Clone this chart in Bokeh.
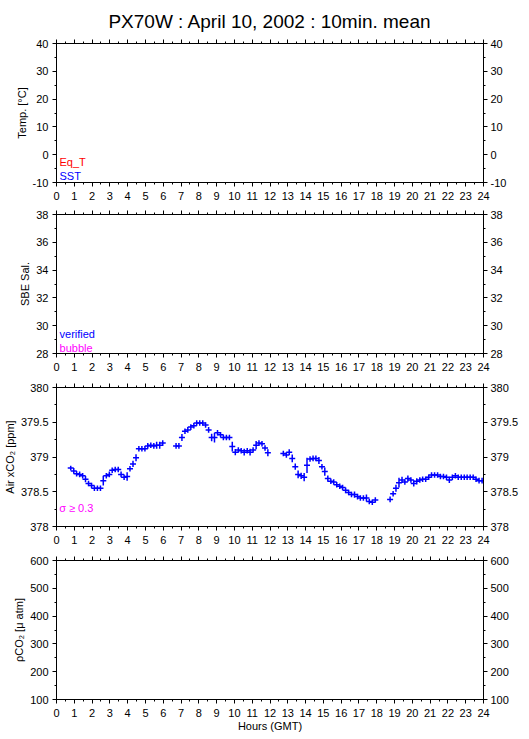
from bokeh.plotting import figure
from bokeh.models import Range1d, LinearAxis, FixedTicker, NumeralTickFormatter, Label
from bokeh.layouts import column
from bokeh.embed import file_html
from bokeh.resources import INLINE

FONT = "Liberation Sans"

# ---------------- data ----------------
title_text = "PX70W : April 10, 2002 : 10min. mean"
hour_ticks = list(range(25))
hour_minor = [0.5 * i for i in range(49)]

temp_ticks = [-10, 0, 10, 20, 30, 40]
temp_minor = [-10, -5, 0, 5, 10, 15, 20, 25, 30, 35, 40]
sal_ticks = [28, 30, 32, 34, 36, 38]
sal_minor = [28, 29, 30, 31, 32, 33, 34, 35, 36, 37, 38]
xco2_ticks = [378, 378.5, 379, 379.5, 380]
xco2_minor = [378, 378.25, 378.5, 378.75, 379, 379.25, 379.5, 379.75, 380]
pco2_ticks = [100, 200, 300, 400, 500, 600]
pco2_minor = [100, 150, 200, 250, 300, 350, 400, 450, 500, 550, 600]

# Air xCO2 10-minute means (hours GMT), value (ppm), std (ppm)
time_h = [
    0.80, 0.97, 1.13, 1.30, 1.47, 1.63, 1.80, 1.97, 2.13, 2.30, 2.47, 2.63, 2.80, 2.97, 3.13, 3.30,
    3.47, 3.63, 3.80, 3.97, 4.13, 4.30, 4.47, 4.63, 4.80, 4.97, 5.13, 5.30, 5.47, 5.63, 5.80, 5.97,
    6.72, 6.88, 7.05, 7.22, 7.38, 7.55, 7.72, 7.88, 8.05, 8.22, 8.38, 8.55, 8.72, 8.88, 9.05, 9.22,
    9.38, 9.55, 9.72, 9.88, 10.05, 10.22, 10.38, 10.55, 10.72, 10.88, 11.05, 11.22, 11.38, 11.55, 11.72, 11.88,
    12.75, 12.92, 13.08, 13.25, 13.42, 13.58, 13.75, 13.92, 14.08, 14.25, 14.42, 14.58, 14.75, 14.92, 15.08, 15.25,
    15.42, 15.58, 15.75, 15.92, 16.08, 16.25, 16.42, 16.58, 16.75, 16.92, 17.08, 17.25, 17.42, 17.58, 17.75, 17.92,
    18.75, 18.92, 19.08, 19.25, 19.42, 19.58, 19.75, 19.92, 20.08, 20.25, 20.42, 20.58, 20.75, 20.92, 21.08, 21.25,
    21.42, 21.58, 21.75, 21.92, 22.08, 22.25, 22.42, 22.58, 22.75, 22.92, 23.08, 23.25, 23.42, 23.58, 23.75, 23.92,
]
air_xco2 = [
    378.84, 378.80, 378.76, 378.75, 378.73, 378.68, 378.62, 378.59, 378.55, 378.55, 378.55, 378.66, 378.73, 378.75, 378.81, 378.82,
    378.82, 378.75, 378.71, 378.72, 378.83, 378.90, 378.99, 379.12, 379.12, 379.12, 379.16, 379.17, 379.16, 379.17, 379.17, 379.20,
    379.16, 379.16, 379.28, 379.37, 379.39, 379.43, 379.45, 379.49, 379.49, 379.49, 379.46, 379.39, 379.28, 379.28, 379.35, 379.32,
    379.28, 379.28, 379.28, 379.15, 379.07, 379.10, 379.09, 379.07, 379.09, 379.07, 379.10, 379.17, 379.20, 379.19, 379.13, 379.06,
    379.05, 379.03, 379.07, 378.98, 378.86, 378.75, 378.73, 378.71, 378.88, 378.97, 378.98, 378.98, 378.95, 378.86, 378.79, 378.69,
    378.65, 378.64, 378.60, 378.58, 378.56, 378.52, 378.49, 378.46, 378.46, 378.43, 378.41, 378.41, 378.41, 378.36, 378.35, 378.38,
    378.39, 378.47, 378.55, 378.63, 378.67, 378.64, 378.69, 378.67, 378.62, 378.65, 378.67, 378.68, 378.68, 378.71, 378.74, 378.74,
    378.74, 378.72, 378.72, 378.71, 378.67, 378.71, 378.73, 378.71, 378.71, 378.71, 378.71, 378.71, 378.71, 378.68, 378.66, 378.66,
]
air_std = [
    0.035, 0.04, 0.04, 0.04, 0.04, 0.045, 0.04, 0.04, 0.04, 0.04, 0.04, 0.07, 0.04, 0.04, 0.04, 0.04,
    0.04, 0.04, 0.04, 0.06, 0.04, 0.045, 0.05, 0.04, 0.04, 0.04, 0.04, 0.04, 0.04, 0.05, 0.05, 0.04,
    0.04, 0.04, 0.05, 0.04, 0.04, 0.04, 0.04, 0.04, 0.04, 0.04, 0.04, 0.04, 0.055, 0.07, 0.04, 0.04,
    0.04, 0.04, 0.04, 0.07, 0.045, 0.04, 0.04, 0.05, 0.04, 0.05, 0.04, 0.06, 0.04, 0.04, 0.04, 0.05,
    0.04, 0.04, 0.04, 0.055, 0.045, 0.055, 0.045, 0.06, 0.11, 0.04, 0.04, 0.04, 0.05, 0.04, 0.06, 0.045,
    0.04, 0.04, 0.04, 0.04, 0.04, 0.04, 0.04, 0.04, 0.045, 0.04, 0.04, 0.04, 0.05, 0.04, 0.04, 0.04,
    0.04, 0.04, 0.05, 0.07, 0.045, 0.04, 0.045, 0.04, 0.045, 0.045, 0.04, 0.04, 0.04, 0.04, 0.04, 0.04,
    0.04, 0.04, 0.04, 0.04, 0.045, 0.04, 0.04, 0.04, 0.04, 0.04, 0.04, 0.04, 0.04, 0.04, 0.04, 0.04,
]


def style_axis(ax, ticks, minor, size="11px", standoff=5, show_labels=True):
    ax.ticker = FixedTicker(ticks=ticks, minor_ticks=minor)
    ax.major_tick_out = 4
    ax.major_tick_in = 0
    ax.minor_tick_out = 2
    ax.minor_tick_in = 0
    ax.axis_line_color = "black"
    ax.major_tick_line_color = "black"
    ax.minor_tick_line_color = "black"
    ax.major_label_text_font = FONT
    ax.axis_label_text_font = FONT
    ax.axis_label_text_font_style = "normal"
    ax.axis_label_text_font_size = "11px"
    ax.axis_label_text_color = "black"
    if show_labels:
        ax.major_label_text_color = "black"
        ax.major_label_text_font_size = size
        ax.major_label_standoff = standoff
    else:
        # tick marks only: labels are not painted
        ax.major_label_text_color = None
        ax.major_label_text_font_size = "1px"
        ax.major_label_standoff = 0


def make_panel(ylo, yhi, yt, ym, ylabel, top, bottom, fmt="0"):
    p = figure(frame_width=427, frame_height=139,
               x_range=Range1d(0, 24), y_range=Range1d(ylo, yhi),
               x_axis_location=None, y_axis_location=None,
               output_backend="svg", toolbar_location=None,
               min_border_left=50, min_border_right=36,
               min_border_top=top, min_border_bottom=bottom)
    p.xgrid.visible = False
    p.ygrid.visible = False
    p.outline_line_color = "black"
    p.background_fill_color = "white"
    p.border_fill_color = "white"

    left = LinearAxis(axis_label=ylabel, formatter=NumeralTickFormatter(format=fmt))
    style_axis(left, yt, ym, standoff=4)
    left.axis_label_standoff = 2
    p.add_layout(left, "left")

    right = LinearAxis(formatter=NumeralTickFormatter(format=fmt))
    style_axis(right, yt, ym, standoff=3)
    p.add_layout(right, "right")

    above = LinearAxis()
    style_axis(above, hour_ticks, hour_minor, show_labels=False)
    p.add_layout(above, "above")

    below = LinearAxis()
    style_axis(below, hour_ticks, hour_minor, standoff=5)
    p.add_layout(below, "below")
    return p, below


def add_text(p, x, y, text, color):
    p.add_layout(Label(x=x, y=y, text=text, text_color=color, text_font=FONT,
                       text_font_size="11px", text_baseline="alphabetic", text_align="left"))


# Panel 1: temperature
p1, b1 = make_panel(-10, 40, temp_ticks, temp_minor, "Temp. [°C]", 36, 20)
p1.title.text = title_text
p1.title.align = "center"
p1.title.text_font = FONT
p1.title.text_font_size = "19px"
p1.title.text_font_style = "normal"
p1.title.text_color = "black"
p1.title.standoff = 16
add_text(p1, 0.17, -2.45, "Eq_T", "#ff0000")
add_text(p1, 0.17, -7.84, "SST", "#0000ff")

# Panel 2: salinity
p2, b2 = make_panel(28, 38, sal_ticks, sal_minor, "SBE Sal.", 12, 22)
add_text(p2, 0.17, 29.37, "verified", "#0000ff")
add_text(p2, 0.17, 28.43, "bubble", "#ff00ff")

# Panel 3: air xCO2
p3, b3 = make_panel(378, 380, xco2_ticks, xco2_minor, "Air xCO₂ [ppm]", 12, 22, fmt="0.[0]")
lo = [v - s for v, s in zip(air_xco2, air_std)]
hi = [v + s for v, s in zip(air_xco2, air_std)]
p3.segment(x0=time_h, y0=lo, x1=time_h, y1=hi, line_color="#0000ff", line_width=1.5)
p3.scatter(x=time_h, y=air_xco2, marker="dash", size=6, line_color="#0000ff", line_width=1.5)
add_text(p3, 0.15, 378.26, "σ ≥ 0.3", "#ff00ff")

# Panel 4: pCO2
p4, b4 = make_panel(100, 600, pco2_ticks, pco2_minor, "ρCO₂ [μ atm]", 12, 30)
b4.axis_label = "Hours (GMT)"
b4.axis_label_standoff = 0

layout = column(p1, p2, p3, p4, spacing=0)

open("out.html", "w").write(file_html(layout, INLINE))
